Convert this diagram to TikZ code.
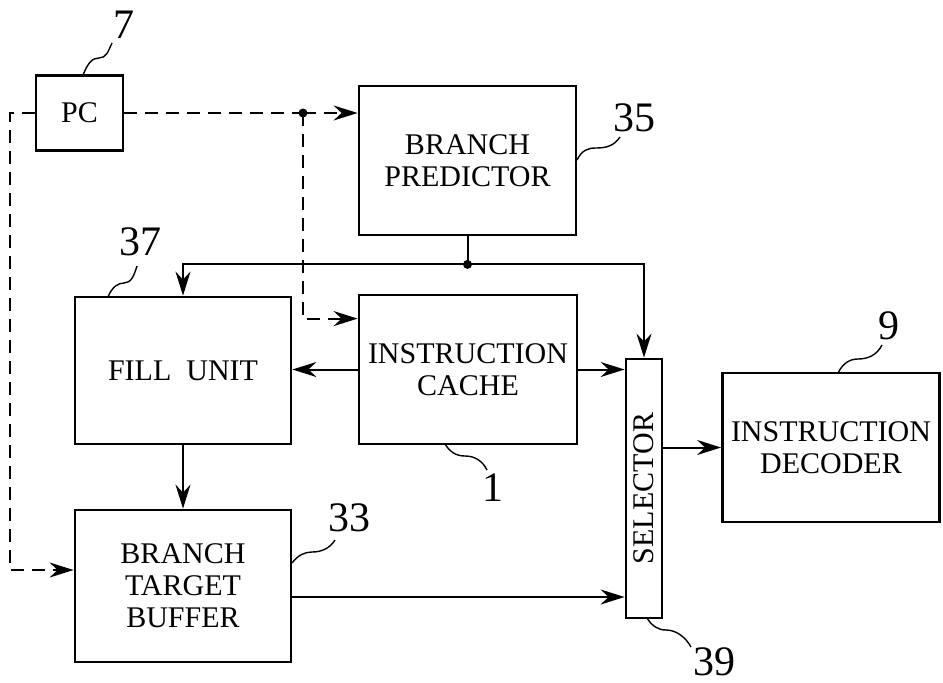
\documentclass[tikz,border=0pt]{standalone}
\usepackage{fontspec}
\usepackage{graphicx}
\setmainfont{Liberation Serif}
\usetikzlibrary{arrows.meta}

\begin{document}
\begin{tikzpicture}[
    x=1pt, y=-1pt,
    block/.style={rectangle, draw, line width=2.8pt, align=center, inner sep=0pt,
                  font=\fontsize{30}{32}\selectfont},
    refnum/.style={font=\fontsize{42}{42}\selectfont, inner sep=0pt},
    lead/.style={line width=1.4pt},
    plain/.style={line width=2pt},
    link/.style={plain, -{Stealth[length=24pt, width=15pt, inset=8pt]}},
    dashline/.style={plain, dash pattern=on 13pt off 8pt},
    dashlink/.style={link, dash pattern=on 13pt off 8pt},
    dot/.style={circle, fill, inner sep=0pt, minimum size=9pt},
  ]
    \useasboundingbox (0,0) rectangle (943,683);

    % blocks
    \node[block, minimum width=87pt, minimum height=75pt] (pc) at (79.5,113) {PC};
    \node[block, minimum width=217pt, minimum height=149pt] (bp) at (467.5,160.5) {BRANCH\\PREDICTOR};
    \node[block, minimum width=218pt, minimum height=149pt] (ic) at (468,369.5) {INSTRUCTION\\CACHE};
    \node[block, minimum width=216pt, minimum height=147pt] (fu) at (183,370.5) {FILL\ \ UNIT};
    \node[block, minimum width=216pt, minimum height=152pt] (btb) at (183,586) {BRANCH\\TARGET\\BUFFER};
    \node[block, minimum width=36pt, minimum height=259pt] (sel) at (644,488.5) {\rotatebox{90}{SELECTOR}};
    \node[block, minimum width=217pt, minimum height=149pt] (dec) at (831,447.5) {INSTRUCTION\\DECODER};

    % program counter paths
    \coordinate (pcfork) at (303,113);
    \coordinate (pcdrop) at (10,570);
    \draw[dashline] (pc.east) -- (pcfork);
    \draw[dashlink] (pcfork) -- (pcfork -| bp.west);
    \draw[dashlink] (pcfork) |- ([yshift=-25pt]ic.north west);
    \draw[dashlink] (pc.west) -| (pcdrop) -- (pcdrop -| btb.west);
    \node[dot] (pcdot) at (pcfork) {};

    % prediction paths
    \path (bp.south) ++(0,28) coordinate (bpfork);
    \draw[plain] (bp.south) -- (bpfork);
    \draw[link] (bpfork) -| (fu.north);
    \draw[link] (bpfork) -| (sel.north);
    \node[dot] (bpdot) at (bpfork) {};

    % data paths
    \draw[link] (ic.west) -- (ic.west -| fu.east);
    \draw[link] (ic.east) -- (ic.east -| sel.west);
    \draw[link] (fu.south) -- (btb.north);
    \draw[link] ([yshift=-11pt]btb.east) -- ([yshift=-11pt]btb.east -| sel.west);
    \draw[link] (sel.east |- dec.west) -- (dec.west);

    % reference numerals
    \node[refnum] (n7) at (124,25) {7};
    \node[refnum] (n35) at (634,118) {35};
    \node[refnum] (n37) at (140,242) {37};
    \node[refnum] (n1) at (493,488) {1};
    \node[refnum] (n33) at (349,518) {33};
    \node[refnum] (n39) at (714,662) {39};
    \node[refnum] (n9) at (889,326) {9};

    \draw[lead] (83,75) .. controls (88,63) and (92,58) .. (99,58) .. controls (106,58) and (108,52) .. (112,43);
    \draw[lead] (577,160) .. controls (582,150) and (588,148) .. (596,148) .. controls (606,148) and (614,146) .. (620,137);
    \draw[lead] (108,297) .. controls (112,287) and (118,283) .. (124,283) .. controls (131,283) and (134,276) .. (137,266);
    \draw[lead] (445,444) .. controls (450,452) and (456,456) .. (465,456) .. controls (476,456) and (483,462) .. (487,470);
    \draw[lead] (292,563) .. controls (298,555) and (305,552) .. (312,552) .. controls (322,552) and (330,548) .. (335,540);
    \draw[lead] (647,618) .. controls (652,626) and (658,630) .. (666,630) .. controls (677,630) and (686,638) .. (691,647);
    \draw[lead] (838,373) .. controls (843,363) and (850,359) .. (858,359) .. controls (868,359) and (877,355) .. (882,345);
\end{tikzpicture}
\end{document}
